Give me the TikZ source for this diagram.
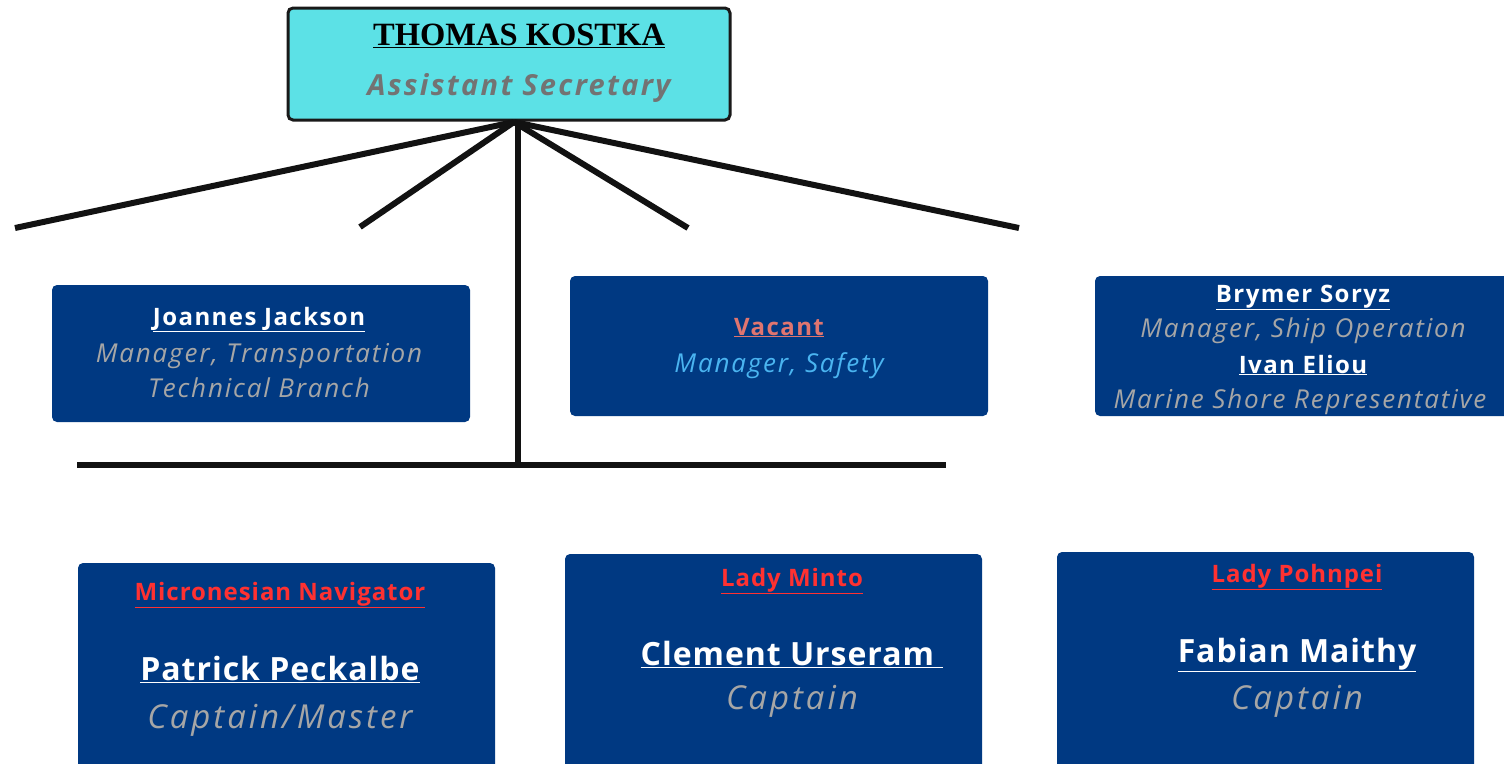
\documentclass[tikz,border=0pt]{standalone}
\usepackage{fontspec}
\setmainfont{Open Sans}
\newfontfamily\timesfont{Liberation Serif}
\definecolor{navy}{RGB}{0,57,130}
\definecolor{cyanbox}{RGB}{92,225,230}
\definecolor{titlegray}{RGB}{115,115,115}
\definecolor{rolegray}{RGB}{166,166,166}
\definecolor{vacred}{RGB}{224,117,111}
\definecolor{safeblue}{RGB}{74,180,240}
\definecolor{shipred}{RGB}{255,49,49}
\begin{document}
\begin{tikzpicture}[x=1pt,y=-1pt,
  navybox/.style={fill=navy,rounded corners=5pt,draw=none},
  conn/.style={line width=6pt,draw=black!93},
  txt/.style={inner sep=0pt,anchor=base},
  nm/.style={txt,text=white,font=\bfseries\fontsize{24}{28}\selectfont\addfontfeatures{LetterSpace=6}},
  role/.style={txt,text=rolegray,font=\itshape\fontsize{26}{30}\selectfont\addfontfeatures{LetterSpace=7}},
  ship/.style={txt,text=shipred,font=\bfseries\fontsize{24}{28}\selectfont\addfontfeatures{LetterSpace=4}},
  bignm/.style={txt,text=white,font=\bfseries\fontsize{32}{36}\selectfont\addfontfeatures{LetterSpace=3}},
  bigrole/.style={txt,text=rolegray,font=\itshape\fontsize{33}{37}\selectfont\addfontfeatures{LetterSpace=9}}]
\useasboundingbox (0,0) rectangle (1504,763);
% top box
\draw[fill=cyanbox,draw=black!90,line width=3pt,rounded corners=5pt] (288,8) rectangle (730,120);
\node[txt] (tk) at (519,45) {\timesfont\bfseries\fontsize{32.5}{36}\selectfont\underline{THOMAS KOSTKA}};
\node[txt,text=titlegray,font=\bfseries\itshape\fontsize{29}{34}\selectfont\addfontfeatures{LetterSpace=8}] (as) at (519,95) {Assistant Secretary};
\coordinate (top) at (514,122);
\coordinate (l1) at (15,228);
\coordinate (l2) at (360,227);
\coordinate (r1) at (688,228);
\coordinate (r2) at (1019,228);
\coordinate (vb) at (518,462);
\coordinate (hl) at (77,465);
\coordinate (hr) at (946,465);
\draw[conn] (top) -- (l1);
\draw[conn] (top) -- (l2);
\draw[conn] (top) -- (r1);
\draw[conn] (top) -- (r2);
\draw[conn] (518,122) -- (vb);
\draw[conn] (hl) -- (hr);
% middle row
\fill[navybox] (52,285) rectangle (470,422);
\node[nm] (jj) at (259,325) {\underline{Joannes Jackson}};
\node[role] (jj1) at (259,362) {Manager, Transportation};
\node[role] (jj2) at (259,397) {Technical Branch};
\fill[navybox] (570,276) rectangle (988,416);
\node[nm,text=vacred] (vac) at (779,335) {\underline{Vacant}};
\node[role,text=safeblue] (vac1) at (779,372) {Manager, Safety};
\fill[navybox] (1095,276) rectangle (1515,416);
\node[nm] (bs) at (1303,302) {\underline{Brymer Soryz}};
\node[role] (bs1) at (1303,337) {Manager, Ship Operation};
\node[nm] (ie) at (1303,373) {\underline{Ivan Eliou}};
\node[role] (ie1) at (1300,408) {Marine Shore Representative};
% bottom row
\fill[navybox] (78,563) rectangle (495,775);
\node[ship] (mn) at (280,600) {\underline{Micronesian Navigator}};
\node[bignm] (pp) at (280,680) {\underline{Patrick Peckalbe}};
\node[bigrole] (pp1) at (280,728) {Captain/Master};
\fill[navybox] (565,554) rectangle (982,775);
\node[ship] (lm) at (792,586) {\underline{Lady Minto}};
\node[bignm] (cu) at (792,665) {\underline{Clement Urseram\ }};
\node[bigrole] (cu1) at (792,709) {Captain};
\fill[navybox] (1057,552) rectangle (1474,775);
\node[ship] (lp) at (1297,582) {\underline{Lady Pohnpei}};
\node[bignm] (fm) at (1297,662) {\underline{Fabian Maithy}};
\node[bigrole] (fm1) at (1297,709) {Captain};
\end{tikzpicture}
\end{document}
